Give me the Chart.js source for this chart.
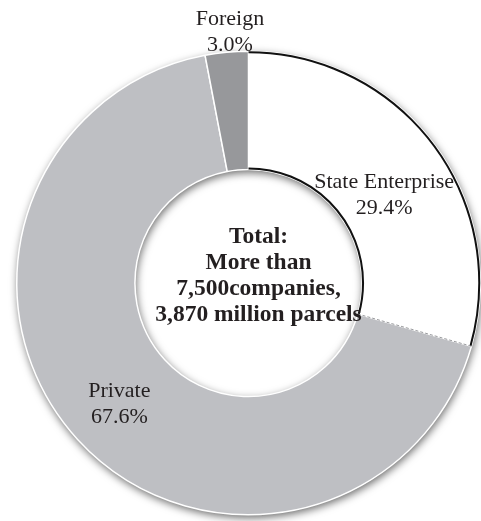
<!DOCTYPE html>
<html>
<head>
<meta charset="utf-8">
<script src="https://cdn.jsdelivr.net/npm/chart.js@4.4.0/dist/chart.umd.min.js"></script>
<style>
  html, body { margin: 0; padding: 0; background: #fff; }
  #wrap { width: 481px; height: 521px; position: relative; }
</style>
</head>
<body>
<div id="wrap"><canvas id="shareChart"></canvas></div>
<script>
var categories = ['State Enterprise', 'Private', 'Foreign'];
var shares = [29.4, 67.6, 3.0];
var centerLines = ['Total:', 'More than', '7,500companies,', '3,870 million parcels'];

var ink = '#231f20';

// soft drop shadow under the ring, drawn before the slices
var ringShadow = {
    id: 'ringShadow',
    beforeDatasetsDraw: function (chart) {
        var arc = chart.getDatasetMeta(0).data[0];
        if (!arc) return;
        var ctx = chart.ctx;
        ctx.save();
        ctx.shadowColor = 'rgba(0,0,0,0.6)';
        ctx.shadowBlur = 8;
        ctx.shadowOffsetX = 1;
        ctx.shadowOffsetY = 3;
        ctx.beginPath();
        ctx.arc(arc.x, arc.y, arc.outerRadius, 0, Math.PI * 2);
        ctx.arc(arc.x, arc.y, arc.innerRadius, 0, Math.PI * 2, true);
        ctx.fillStyle = '#fff';
        ctx.fill('evenodd');
        ctx.restore();
    }
};

// black outline on the white slice, and all the text
var labelsPlugin = {
    id: 'labelsPlugin',
    afterDatasetsDraw: function (chart) {
        var ctx = chart.ctx;
        var meta = chart.getDatasetMeta(0);
        var state = meta.data[0];
        ctx.save();
        ctx.strokeStyle = '#111';
        ctx.lineWidth = 2;
        ctx.beginPath();
        ctx.arc(state.x, state.y, state.outerRadius - 1, state.startAngle, state.endAngle);
        ctx.stroke();
        ctx.beginPath();
        ctx.arc(state.x, state.y, state.innerRadius + 1, state.startAngle, state.endAngle);
        ctx.stroke();
        // dashed edge towards Private
        var a = state.endAngle;
        ctx.strokeStyle = '#9a9b9e';
        ctx.lineWidth = 1;
        ctx.setLineDash([3, 2]);
        ctx.beginPath();
        ctx.moveTo(state.x + Math.cos(a) * state.innerRadius, state.y + Math.sin(a) * state.innerRadius);
        ctx.lineTo(state.x + Math.cos(a) * state.outerRadius, state.y + Math.sin(a) * state.outerRadius);
        ctx.stroke();
        ctx.setLineDash([]);

        ctx.fillStyle = ink;
        ctx.textAlign = 'center';
        ctx.textBaseline = 'middle';
        ctx.font = '22px "Liberation Serif", "Times New Roman", serif';
        // label radius (as share of outer radius) and nudges per slice
        var place = [
            { r: 0.75, dx: -3, dy: 4 },
            { r: 0.75, dx: -1, dy: -9 },
            { r: 1.08, dx: 5, dy: -15 }
        ];
        meta.data.forEach(function (arc, i) {
            var mid = (arc.startAngle + arc.endAngle) / 2;
            var rad = arc.outerRadius * place[i].r;
            var cx = arc.x + Math.cos(mid) * rad + place[i].dx;
            var cy = arc.y + Math.sin(mid) * rad + place[i].dy;
            ctx.fillText(categories[i], cx, cy);
            ctx.fillText(shares[i].toFixed(1) + '%', cx, cy + 26);
        });

        ctx.font = 'bold 23.5px "Liberation Serif", "Times New Roman", serif';
        var top = state.y - 46;
        centerLines.forEach(function (line, i) {
            ctx.fillText(line, state.x + 10, top + i * 26);
        });
        ctx.restore();
    }
};

var ctx = document.getElementById('shareChart').getContext('2d');
var chart = new Chart(ctx, {
    type: 'doughnut',
    data: {
        labels: categories,
        datasets: [{
            data: shares,
            backgroundColor: ['#ffffff', '#bebfc3', '#97989b'],
            borderColor: '#ffffff',
            borderWidth: 1.5
        }]
    },
    options: {
        responsive: true,
        maintainAspectRatio: false,
        animation: false,
        cutout: '49%',
        layout: { padding: { left: 16, right: 0, top: 50, bottom: 5 } },
        plugins: {
            legend: { display: false },
            tooltip: { enabled: false }
        }
    },
    plugins: [ringShadow, labelsPlugin]
});
</script>
</body>
</html>
